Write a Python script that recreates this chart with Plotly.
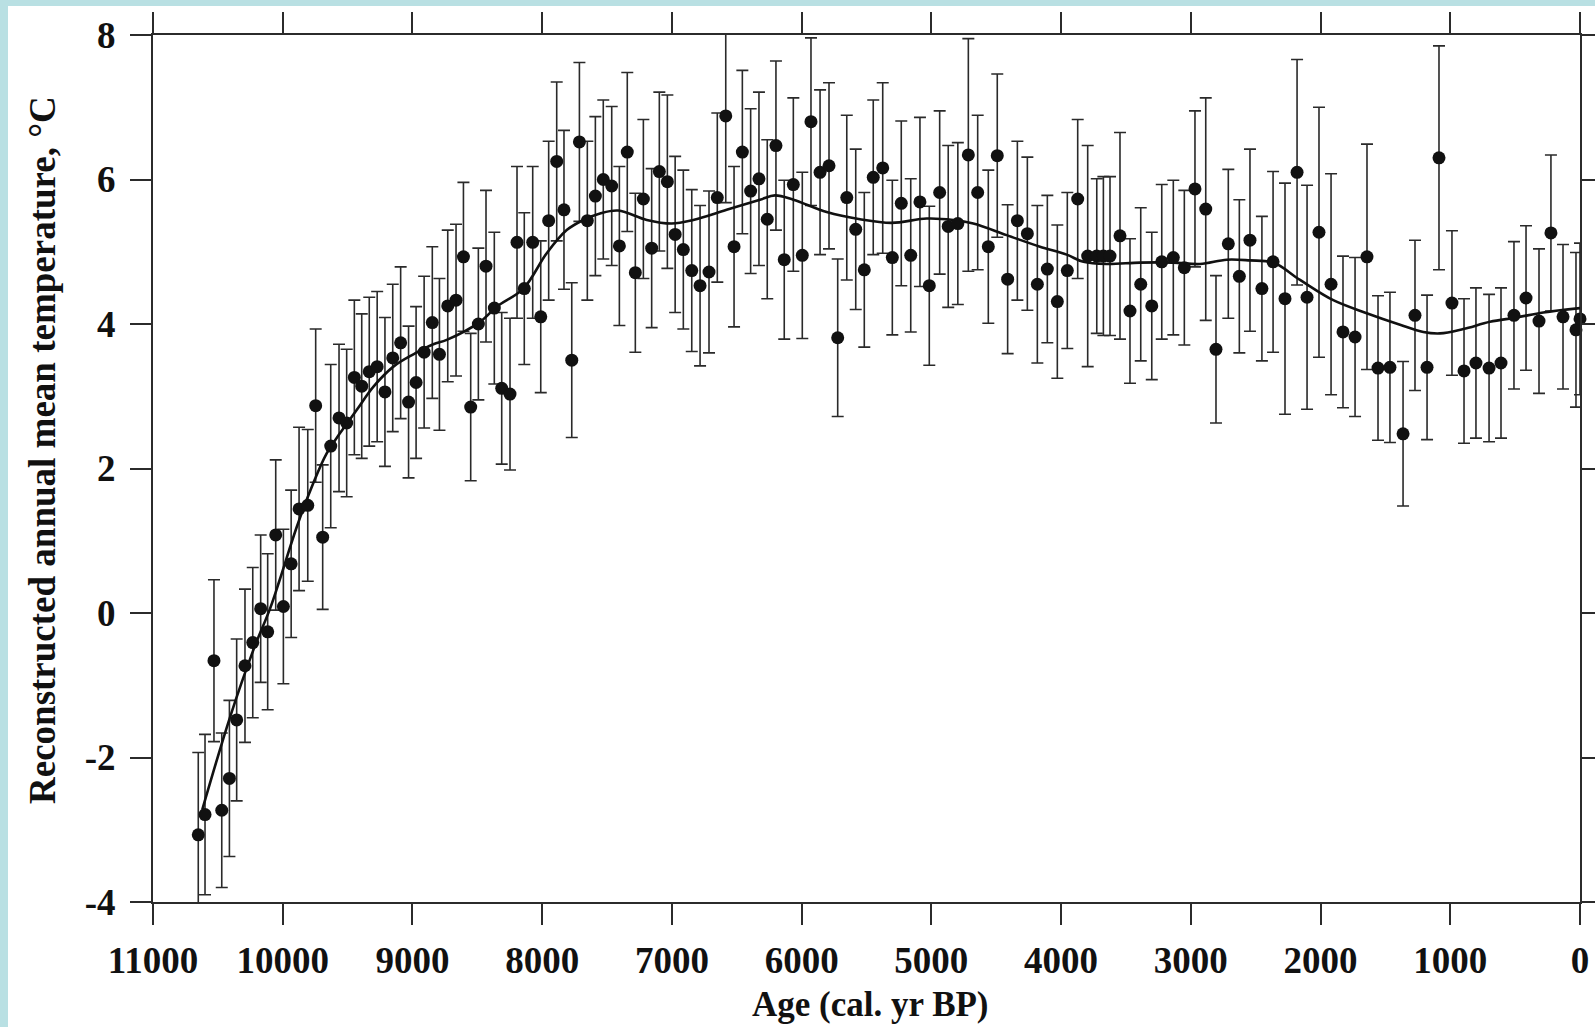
import plotly.graph_objects as go

# Reconstructed annual mean temperature (°C) by sample age (cal. yr BP)
age = [10651, 10599, 10530, 10470, 10411, 10355, 10291, 10231, 10170, 10116,
       10054, 9995, 9935, 9874, 9807, 9746, 9692, 9630, 9566, 9507,
       9448, 9391, 9333, 9272, 9212, 9152, 9091, 9030, 8972, 8910,
       8847, 8792, 8728, 8664, 8607, 8551, 8492, 8433, 8369, 8312,
       8248, 8194, 8138, 8073, 8011, 7950, 7888, 7832, 7772, 7713,
       7652, 7590, 7529, 7464, 7405, 7344, 7282, 7220, 7156, 7097,
       7035, 6975, 6912, 6847, 6783, 6714, 6650, 6585, 6521, 6457,
       6393, 6329, 6265, 6198, 6134, 6064, 5995, 5928, 5858, 5789,
       5722, 5652, 5583, 5517, 5448, 5375, 5301, 5232, 5159, 5088,
       5016, 4936, 4870, 4796, 4715, 4643, 4561, 4492, 4412, 4337,
       4260, 4183, 4106, 4029, 3952, 3872, 3795, 3725, 3674, 3623,
       3546, 3469, 3386, 3301, 3224, 3135, 3050, 2968, 2885, 2806,
       2711, 2626, 2544, 2452, 2366, 2274, 2181, 2104, 2012, 1919,
       1827, 1734, 1642, 1557, 1465, 1364, 1272, 1179, 1087, 987,
       894, 802, 701, 609, 509, 416, 316, 224, 131, 31, 0]

temp = [-3.07, -2.79, -0.66, -2.73, -2.29, -1.48, -0.73, -0.41, 0.06, -0.26,
        1.08, 0.09, 0.68, 1.44, 1.49, 2.87, 1.05, 2.31, 2.70, 2.63,
        3.26, 3.14, 3.34, 3.41, 3.06, 3.53, 3.74, 2.92, 3.19, 3.61,
        4.02, 3.58, 4.25, 4.33, 4.93, 2.85, 4.00, 4.80, 4.22, 3.11,
        3.03, 5.13, 4.49, 5.13, 4.10, 5.43, 6.25, 5.58, 3.50, 6.52,
        5.43, 5.77, 6.00, 5.91, 5.08, 6.38, 4.71, 5.73, 5.05, 6.11,
        5.97, 5.24, 5.03, 4.74, 4.53, 4.72, 5.75, 6.88, 5.07, 6.38,
        5.84, 6.01, 5.45, 6.47, 4.89, 5.93, 4.95, 6.80, 6.10, 6.19,
        3.81, 5.75, 5.31, 4.75, 6.03, 6.16, 4.92, 5.67, 4.95, 5.69,
        4.53, 5.82, 5.35, 5.39, 6.34, 5.82, 5.07, 6.33, 4.62, 5.43,
        5.25, 4.55, 4.76, 4.31, 4.74, 5.73, 4.94, 4.94, 4.94, 4.94,
        5.22, 4.18, 4.55, 4.25, 4.86, 4.92, 4.78, 5.87, 5.59, 3.65,
        5.11, 4.66, 5.16, 4.49, 4.86, 4.35, 6.10, 4.37, 5.27, 4.55,
        3.89, 3.82, 4.93, 3.39, 3.40, 2.48, 4.12, 3.40, 6.30, 4.29,
        3.35, 3.46, 3.39, 3.46, 4.12, 4.36, 4.04, 5.26, 4.10, 3.92, 4.07]

# Reconstruction uncertainty (±°C)
err = [1.14, 1.11, 1.12, 1.07, 1.08, 1.12, 1.06, 1.04, 1.02, 1.08,
       1.04, 1.07, 1.02, 1.13, 1.05, 1.06, 1.00, 1.13, 1.02, 1.02,
       1.07, 1.00, 1.03, 1.04, 1.03, 1.02, 1.05, 1.05, 1.05, 1.05,
       1.05, 1.05, 1.05, 1.05, 1.03, 1.02, 1.05, 1.05, 1.05, 1.05,
       1.05, 1.05, 1.05, 1.05, 1.05, 1.10, 1.10, 1.10, 1.07, 1.10,
       1.10, 1.10, 1.10, 1.10, 1.10, 1.10, 1.10, 1.10, 1.10, 1.10,
       1.20, 1.08, 1.10, 1.12, 1.11, 1.12, 1.17, 1.20, 1.11, 1.13,
       1.14, 1.20, 1.10, 1.17, 1.10, 1.20, 1.15, 1.16, 1.14, 1.15,
       1.09, 1.14, 1.11, 1.07, 1.07, 1.18, 1.07, 1.14, 1.06, 1.17,
       1.10, 1.13, 1.12, 1.12, 1.61, 1.07, 1.06, 1.13, 1.03, 1.10,
       1.06, 1.09, 1.02, 1.06, 1.08, 1.10, 1.53, 1.07, 1.10, 1.10,
       1.43, 1.00, 1.06, 1.02, 1.07, 1.07, 1.07, 1.08, 1.54, 1.02,
       1.03, 1.06, 1.26, 1.00, 1.25, 1.60, 1.56, 1.55, 1.73, 1.53,
       1.05, 1.10, 1.56, 1.00, 1.04, 1.00, 1.04, 1.00, 1.55, 1.00,
       1.00, 1.04, 1.02, 1.04, 1.02, 1.00, 1.00, 1.08, 1.00, 1.07, 1.05]

# Smoothed temperature trend
trend_age = [10620, 10406, 10226, 10100, 10023, 9892, 9764, 9661, 9558, 9430,
             9302, 9147, 8993, 8839, 8736, 8479, 8350, 8145, 7965, 7811,
             7683, 7554, 7413, 7194, 7002, 6835, 6578, 6321, 6205, 6064,
             5807, 5550, 5306, 5036, 4831, 4677, 4420, 4163, 3957, 3828,
             3648, 3392, 3135, 2929, 2723, 2544, 2364, 2158, 1902, 1644,
             1387, 1208, 1079, 900, 694, 488, 283, 0]
trend_temp = [-2.72, -1.44, -0.51, 0.05, 0.46, 1.19, 1.80, 2.21, 2.49, 2.81,
              3.13, 3.41, 3.58, 3.72, 3.78, 4.03, 4.24, 4.49, 4.98, 5.30,
              5.44, 5.53, 5.57, 5.44, 5.39, 5.44, 5.58, 5.72, 5.78, 5.72,
              5.55, 5.45, 5.40, 5.46, 5.44, 5.39, 5.23, 5.07, 4.96, 4.86,
              4.83, 4.85, 4.85, 4.83, 4.89, 4.88, 4.85, 4.61, 4.33, 4.15,
              3.99, 3.89, 3.87, 3.93, 4.03, 4.09, 4.16, 4.22]

x_ticks = [11000, 10000, 9000, 8000, 7000, 6000, 5000, 4000, 3000, 2000, 1000, 0]
x_labels = ["11000", "10000", "9000", "8000", "7000", "6000", "5000",
            "4000", "3000", "2000", "1000", "0"]
y_ticks = [-4, -2, 0, 2, 4, 6, 8]
y_labels = ["-4", "-2", "0", "2", "4", "6", "8"]

FONT = "Liberation Serif, Times New Roman, serif"
INK = "#111111"
BORDER_BLUE = "#b9e0e3"

fig = go.Figure()

# error bars (clipped to the plotting frame)
fig.add_trace(go.Scatter(
    x=age, y=temp, mode="markers",
    marker=dict(size=1, color="rgba(0,0,0,0)"),
    error_y=dict(type="data", array=err, visible=True,
                 color="#2a2a2a", thickness=1.6, width=6),
    cliponaxis=True, hoverinfo="skip", showlegend=False,
))

# smoothed trend line
fig.add_trace(go.Scatter(
    x=trend_age, y=trend_temp, mode="lines",
    line=dict(color=INK, width=2.6, shape="spline", smoothing=1.0),
    showlegend=False,
))

# sample points
fig.add_trace(go.Scatter(
    x=age, y=temp, mode="markers",
    marker=dict(size=13, color=INK, line=dict(width=0)),
    cliponaxis=False, showlegend=False,
))

axis_common = dict(
    showline=True, linecolor="#2b2b2b", linewidth=2,
    mirror="allticks", ticks="outside", ticklen=21, tickwidth=2,
    tickcolor="#2b2b2b", showgrid=False, zeroline=False, automargin=False,
    tickfont=dict(family=FONT, size=37, color=INK, weight="bold"),
)

fig.update_xaxes(
    range=[11000, 0], tickvals=x_ticks, ticktext=x_labels,
    ticklabelstandoff=4, **axis_common,
)
fig.update_yaxes(
    range=[-4, 8], tickvals=y_ticks, ticktext=y_labels,
    ticklabelstandoff=7, **axis_common,
)

fig.update_layout(
    width=1595, height=1027,
    margin=dict(l=153, r=15, t=35, b=125),
    paper_bgcolor="white", plot_bgcolor="white",
    font=dict(family=FONT, color=INK),
    shapes=[
        dict(type="rect", xref="paper", yref="paper", layer="below",
             x0=-153 / 1427, x1=-145 / 1427, y0=-125 / 867, y1=1 + 35 / 867,
             fillcolor=BORDER_BLUE, line=dict(width=0)),
        dict(type="rect", xref="paper", yref="paper", layer="below",
             x0=-153 / 1427, x1=1 + 15 / 1427, y0=1 + 29 / 867, y1=1 + 35 / 867,
             fillcolor=BORDER_BLUE, line=dict(width=0)),
    ],
    annotations=[
        dict(text="Reconstructed annual mean temperature, °C",
             xref="paper", yref="paper", x=-111 / 1427, y=452 / 867,
             xanchor="center", yanchor="middle", textangle=-90, showarrow=False,
             font=dict(family=FONT, size=37, color=INK, weight="bold")),
        dict(text="Age (cal. yr BP)",
             xref="paper", yref="paper", x=717 / 1427, y=-102 / 867,
             xanchor="center", yanchor="middle", showarrow=False,
             font=dict(family=FONT, size=35, color=INK, weight="bold")),
    ],
)

fig.write_html("out.html")
